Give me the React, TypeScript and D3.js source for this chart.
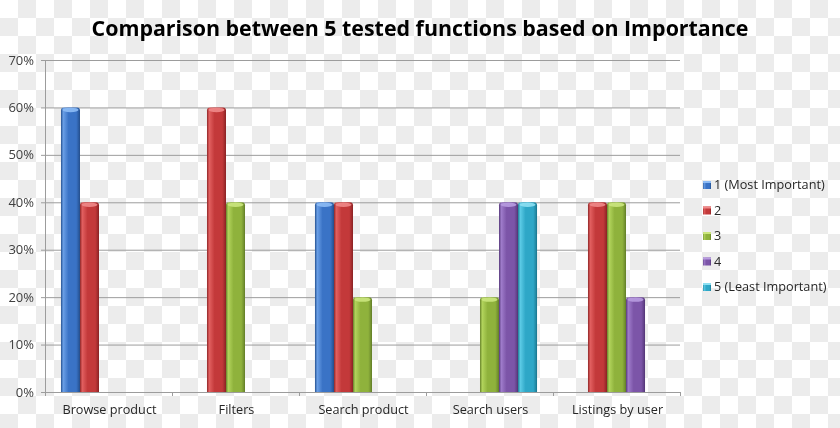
import React from "react";
import * as d3 from "d3";

const categories = ["Browse product", "Filters", "Search product", "Search users", "Listings by user"];
const seriesNames = ["1 (Most Important)", "2", "3", "4", "5 (Least Important)"];
const series1 = [0.6, 0, 0.4, 0, 0];
const series2 = [0.4, 0.6, 0.4, 0, 0.4];
const series3 = [0, 0.4, 0.2, 0.2, 0.4];
const series4 = [0, 0, 0, 0.4, 0.2];
const series5 = [0, 0, 0, 0.4, 0];
const yTicks = [0, 0.1, 0.2, 0.3, 0.4, 0.5, 0.6, 0.7];
const title = "Comparison between 5 tested functions based on Importance";

const allSeries = [series1, series2, series3, series4, series5];
const palette = [
  { base: "#3a73c6", light: "#6a9fe6", dark: "#24508f", cap: "#8ebcf5" },
  { base: "#c3393a", light: "#e26060", dark: "#8e2526", cap: "#f08a8a" },
  { base: "#8fb23c", light: "#b2d45c", dark: "#66822a", cap: "#cbe67e" },
  { base: "#7c55a8", light: "#9f7ccb", dark: "#56387a", cap: "#b89ce0" },
  { base: "#2ea7c7", light: "#5ccbe6", dark: "#1d7a93", cap: "#8ee0f2" },
];

const W = 840, H = 428;
const left = 45, right = 680, top = 60, bottom = 392;
const font = "'Open Sans', 'DejaVu Sans', sans-serif";

export default function App() {
  const y = d3.scaleLinear().domain([0, 0.7]).range([bottom, top]);
  const x0 = d3.scaleBand<string>().domain(categories).range([left, right]).paddingInner(0).paddingOuter(0);
  const x1 = d3.scaleBand<string>().domain(seriesNames).range([0, x0.bandwidth()]).paddingInner(0).paddingOuter(0.84);
  const bw = x1.bandwidth();

  return (
    <svg width={W} height={H} style={{ position: "fixed", left: 0, top: 0 }} fontFamily={font}>
      <defs>
        <pattern id="checker" patternUnits="userSpaceOnUse" width={36} height={36}>
          <rect width={36} height={36} fill="#ffffff" />
          <rect x={18} y={0} width={18} height={18} fill="#ececec" />
          <rect x={0} y={18} width={18} height={18} fill="#ececec" />
        </pattern>
        {palette.map((p, i) => (
          <linearGradient key={i} id={`g${i}`} x1="0" x2="1" y1="0" y2="0">
            <stop offset="0" stopColor={p.dark} />
            <stop offset="0.12" stopColor={p.light} />
            <stop offset="0.4" stopColor={p.base} />
            <stop offset="0.8" stopColor={p.base} />
            <stop offset="1" stopColor={p.dark} />
          </linearGradient>
        ))}
      </defs>
      <rect width={W} height={H} fill="url(#checker)" />

      <text x={420} y={36} textAnchor="middle" fontSize={22} fontWeight={700} fill="#000"
        textLength={657} lengthAdjust="spacingAndGlyphs">{title}</text>

      {yTicks.map((t) => (
        <g key={t}>
          <line x1={left - 4} x2={right} y1={y(t) + 0.5} y2={y(t) + 0.5} stroke="#9c9c9c" strokeWidth={1} />
          <text x={34} y={y(t)} dy="0.35em" textAnchor="end" fontSize={13} fill="#404040">
            {d3.format(".0%")(t)}
          </text>
        </g>
      ))}
      <line x1={left + 0.5} x2={left + 0.5} y1={top} y2={bottom} stroke="#9c9c9c" />
      {d3.range(categories.length + 1).map((i) => {
        const xx = i < categories.length ? (x0(categories[i]) as number) : right;
        return <line key={i} x1={xx + 0.5} x2={xx + 0.5} y1={bottom} y2={bottom + 4} stroke="#9c9c9c" />;
      })}
      {categories.map((c) => (
        <text key={c} x={(x0(c) as number) + x0.bandwidth() / 2 + 1} y={410} dy="0.35em" textAnchor="middle" fontSize={12.7} fill="#262626">
          {c}
        </text>
      ))}

      {categories.map((c, ci) => (
        <g key={c}>
          {allSeries.map((s, si) => {
            const v = s[ci];
            if (!v) return null;
            const bx = (x0(c) as number) + (x1(seriesNames[si]) as number);
            const by = y(v);
            const h = bottom - by;
            const r = 3;
            const path = `M${bx},${bottom} L${bx},${by + r} Q${bx},${by} ${bx + r},${by} L${bx + bw - r},${by} Q${bx + bw},${by} ${bx + bw},${by + r} L${bx + bw},${bottom} Z`;
            return (
              <g key={si}>
                <path d={path} fill={`url(#g${si})`} />
                <ellipse cx={bx + bw / 2} cy={by + 2.5} rx={bw / 2 - 1.5} ry={2.2} fill={palette[si].cap} opacity={0.9} />
                {h > 0 && <line x1={bx + bw - 0.5} x2={bx + bw - 0.5} y1={by + 3} y2={bottom} stroke={palette[si].dark} strokeOpacity={0.6} />}
              </g>
            );
          })}
        </g>
      ))}

      {seriesNames.map((n, i) => {
        const ly = 185 + i * 25.5;
        return (
          <g key={n}>
            <rect x={703} y={ly - 4} width={8} height={8} fill={`url(#g${i})`} />
            <rect x={703} y={ly - 4} width={8} height={2} fill={palette[i].cap} />
            <text x={714} y={ly} dy="0.35em" fontSize={12.7} fill="#262626">{n}</text>
          </g>
        );
      })}
    </svg>
  );
}
